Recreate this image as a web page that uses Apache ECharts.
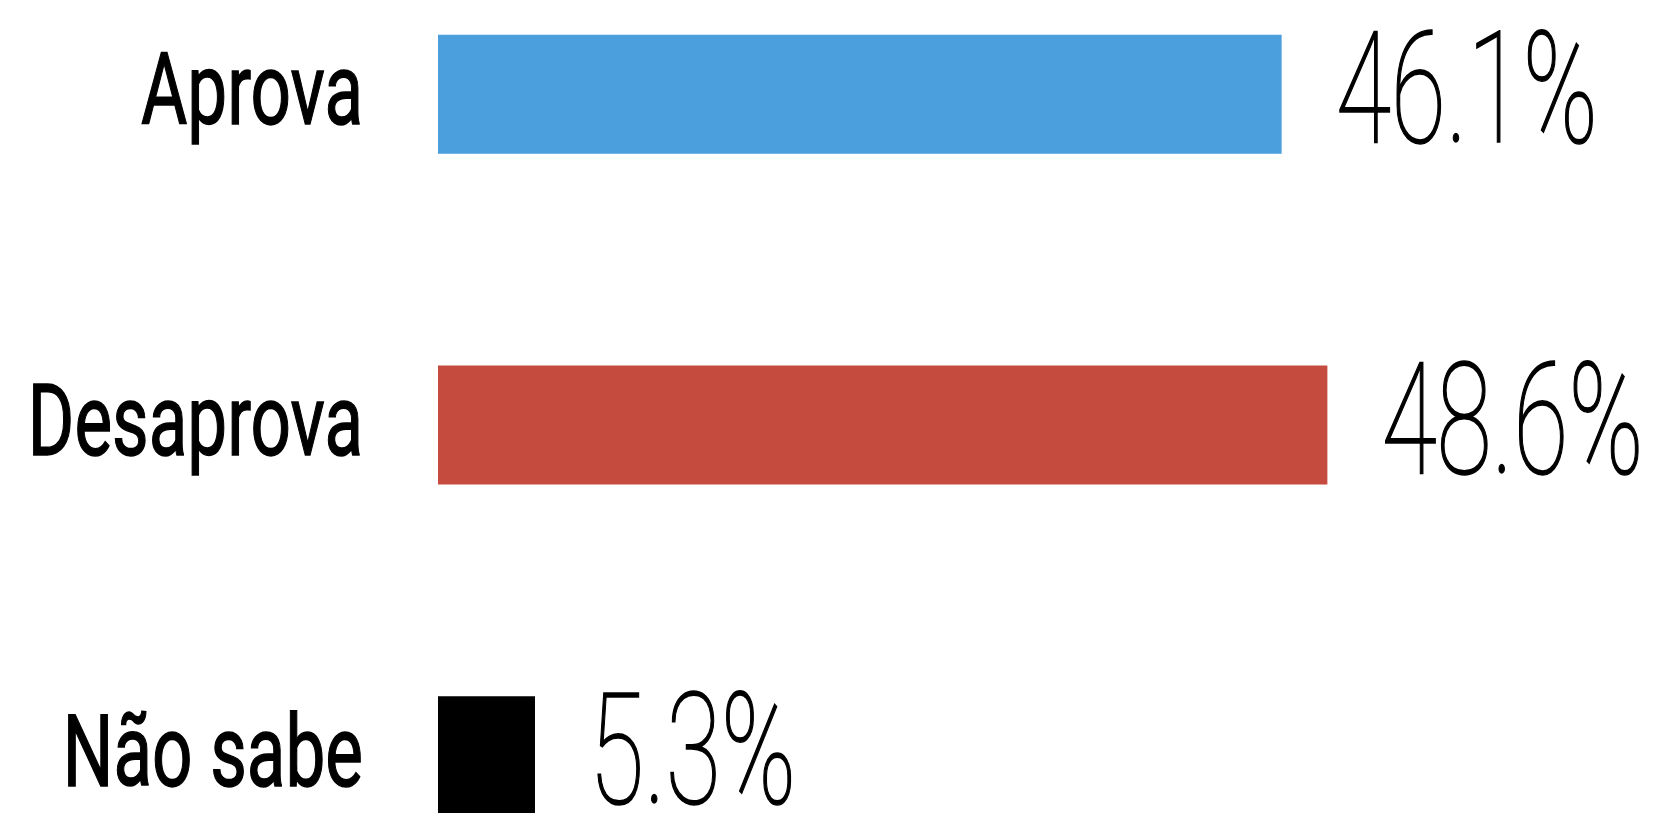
<!DOCTYPE html>
<html>
<head>
<meta charset="utf-8">
<style>
  html, body { margin: 0; padding: 0; background: #ffffff; }
  #chart { width: 1667px; height: 813px; }
</style>
<script src="https://cdn.jsdelivr.net/npm/echarts@6/dist/echarts.min.js"></script>
</head>
<body>
<div id="chart"></div>
<script>
const categories = ['Aprova', 'Desaprova', 'Não sabe'];
const values = [46.1, 48.6, 5.3];

const barColors = ['#4A9FDC', '#C54B3F', '#000000'];

const chart = echarts.init(document.getElementById('chart'), null, { renderer: 'canvas' });

const option = {
  animation: false,
  backgroundColor: '#ffffff',
  grid: {
    left: 438, top: -71, height: 992, width: 1098,
    containLabel: false,
    outerBoundsMode: 'none'
  },
  xAxis: {
    type: 'value', min: 0, max: 60,
    show: false
  },
  yAxis: {
    type: 'category',
    inverse: true,
    data: categories,
    axisLine: { show: false },
    axisTick: { show: false },
    splitLine: { show: false },
    axisLabel: { show: false }
  },
  series: [
    {
      type: 'bar',
      barWidth: 119,
      data: values.map((v, i) => ({ value: v, itemStyle: { color: barColors[i] } })),
      label: { show: false }
    },
    {
      // category names, placed on the category axis
      type: 'custom',
      data: categories.map((c, i) => [0, i]),
      encode: { x: 0, y: 1 },
      clip: false,
      renderItem: function (params, api) {
        const p = api.coord([0, api.value(1)]);
        return {
          type: 'text',
          x: p[0] - 75,
          y: p[1] + 5,
          scaleX: 0.71,
          style: {
            text: categories[params.dataIndex],
            fill: '#000000',
            stroke: '#000000',
            lineWidth: 1.4,
            fontFamily: 'Roboto, sans-serif',
            fontWeight: 400,
            fontSize: 100,
            align: 'right',
            verticalAlign: 'middle'
          }
        };
      }
    },
    {
      // value labels
      type: 'custom',
      data: values.map((v, i) => [v, i]),
      encode: { x: 0, y: 1 },
      clip: false,
      renderItem: function (params, api) {
        const p = api.coord([api.value(0), api.value(1)]);
        return {
          type: 'text',
          x: p[0] + 54,
          y: p[1] + 9,
          scaleX: 0.65,
          style: {
            text: api.value(0).toFixed(1) + '%',
            fill: '#000000',
            stroke: '#000000',
            lineWidth: 1.6,
            fontFamily: 'Roboto, sans-serif',
            fontWeight: 100,
            fontSize: 155,
            align: 'left',
            verticalAlign: 'middle'
          }
        };
      }
    }
  ]
};
chart.setOption(option);
</script>
</body>
</html>
